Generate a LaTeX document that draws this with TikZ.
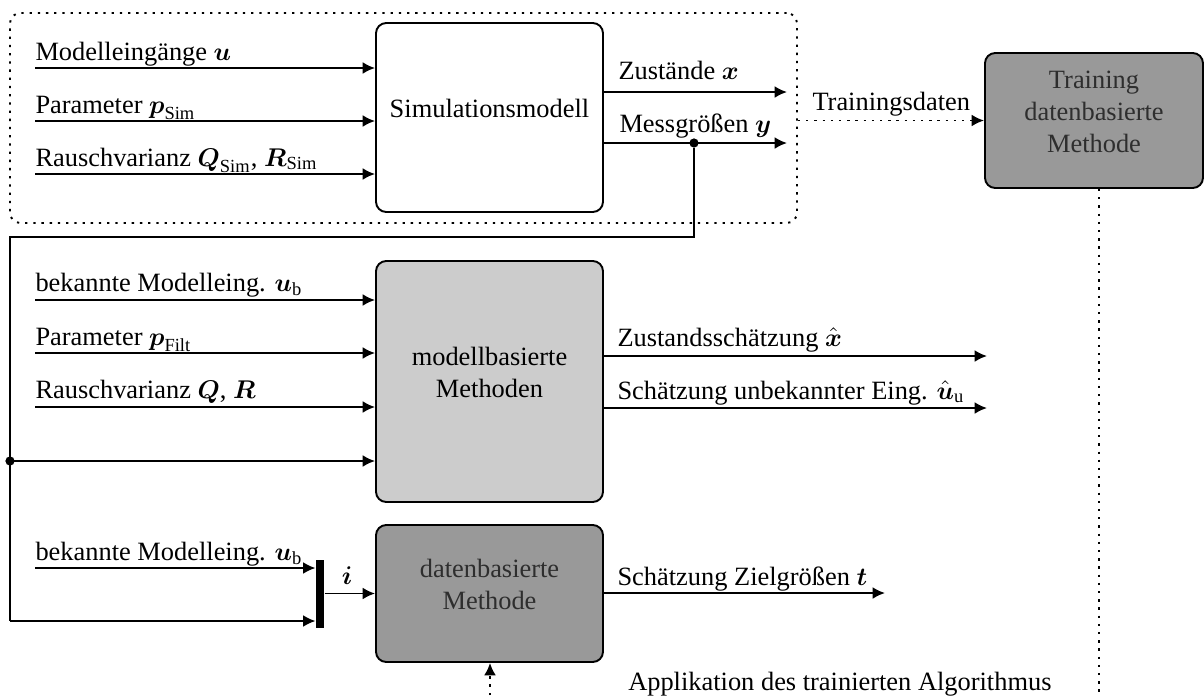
\documentclass[tikz,border=0pt]{standalone}
\usepackage{amsmath}
\usepackage{fontspec}
\setmainfont{Liberation Serif}
\usetikzlibrary{arrows.meta,fit}
\begin{document}
\begin{tikzpicture}[x=0.39pt,y=-0.39pt,
  every node/.style={font=\fontsize{10.3}{12.4}\selectfont},
  blk/.style={draw, line width=0.75pt, rounded corners=4pt, inner sep=0pt, align=center},
  lbl/.style={anchor=base west, inner sep=0pt},
  arr/.style={line width=0.75pt, -{Latex[length=4.8pt,width=4.6pt]}},
  ln/.style={line width=0.75pt},
  dots/.style={line width=0.75pt, dash pattern=on 0.9pt off 2.3pt},
  dotarr/.style={dots, -{Latex[length=4.8pt,width=4.6pt]}},
  jdot/.style={circle, fill=black, inner sep=0pt, minimum size=3.6pt}]
\useasboundingbox (0,0) rectangle (1204,695);
\definecolor{dgray}{HTML}{999999}
\definecolor{lgray}{HTML}{CCCCCC}
\definecolor{tgray}{HTML}{2E2E2E}

% group box
\node[blk, dots, rounded corners=4pt, fit={(10,13)(797,223)}] (grp) {};

% blocks
\node[blk, fit={(376,23)(603,212)}] (sim) {Simulationsmodell};
\node[blk, fill=dgray, text=tgray, fit={(985,53)(1203,188)}] (train) {Training\\datenbasierte\\Methode};
\node[blk, fill=lgray, fit={(376,261)(603,502)}] (mod) {modellbasierte\\Methoden};
\node[blk, fill=dgray, text=tgray, fit={(376,525)(603,662)}] (dat) {datenbasierte\\Methode};
\node[fill=black, inner sep=0pt, fit={(316,560)(324,628)}] (mux) {};

% simulation inputs
\coordinate (s1) at (35,68);
\coordinate (s2) at (35,121);
\coordinate (s3) at (35,174);
\draw[arr] (s1) -- (s1 -| sim.west);
\draw[arr] (s2) -- (s2 -| sim.west);
\draw[arr] (s3) -- (s3 -| sim.west);
\node[lbl] (ls1) at (35,60) {Modelleingänge $\boldsymbol{u}$};
\node[lbl] (ls2) at (35,113) {Parameter $\boldsymbol{p}_{\mathrm{Sim}}$};
\node[lbl] (ls3) at (35,166) {Rauschvarianz $\boldsymbol{Q}_{\mathrm{Sim}}$, $\boldsymbol{R}_{\mathrm{Sim}}$};

% simulation outputs
\coordinate (o1) at (787,92);
\coordinate (o2) at (787,143);
\draw[arr] (o1 -| sim.east) -- (o1);
\draw[arr] (o2 -| sim.east) -- (o2);
\node[lbl] (lo1) at (618,79) {Zustände $\boldsymbol{x}$};
\node[lbl] (lo2) at (619,132) {Messgrößen $\boldsymbol{y}$};

% training data
\draw[dotarr] (grp.east |- train.west) -- (train.west);
\node[lbl] (ltd) at (812,110) {Trainingsdaten};
\coordinate (tb) at (1099,695);
\draw[dots] (train.south -| tb) -- (tb);

% feedback of measurements
\node[jdot] (j1) at (694,143) {};
\coordinate (c1) at (694,237);
\coordinate (c2) at (10,237);
\node[jdot] (j2) at (10,461) {};
\coordinate (c3) at (10,621);
\draw[ln] (j1) -- (c1) -- (c2) -- (j2.center);
\draw[arr] (j2.center) -- (j2 -| mod.west);
\draw[ln] (j2.center) -- (c3);
\draw[arr] (c3) -- (c3 -| mux.west);

% model-based inputs
\coordinate (m1) at (35,300);
\coordinate (m2) at (35,353);
\coordinate (m3) at (35,407);
\draw[arr] (m1) -- (m1 -| mod.west);
\draw[arr] (m2) -- (m2 -| mod.west);
\draw[arr] (m3) -- (m3 -| mod.west);
\node[lbl] (lm1) at (35,291) {bekannte Modelleing. $\boldsymbol{u}_{\mathrm{b}}$};
\node[lbl] (lm2) at (35,345) {Parameter $\boldsymbol{p}_{\mathrm{Filt}}$};
\node[lbl] (lm3) at (35,398) {Rauschvarianz $\boldsymbol{Q}$, $\boldsymbol{R}$};

% model-based outputs
\coordinate (mo1) at (987,356);
\coordinate (mo2) at (987,408);
\draw[arr] (mo1 -| mod.east) -- (mo1);
\draw[arr] (mo2 -| mod.east) -- (mo2);
\node[lbl] (lmo1) at (617,346) {Zustandsschätzung $\hat{\boldsymbol{x}}$};
\node[lbl] (lmo2) at (617,399) {Schätzung unbekannter Eing. $\hat{\boldsymbol{u}}_{\mathrm{u}}$};

% data-based
\coordinate (d1) at (35,568);
\draw[arr] (d1) -- (d1 -| mux.west);
\node[lbl] (ld1) at (35,560) {bekannte Modelleing. $\boldsymbol{u}_{\mathrm{b}}$};
\draw[arr] (mux.east |- dat.west) -- (dat.west);
\node[anchor=base, inner sep=0pt] (li) at (347,584) {$\boldsymbol{i}$};
\coordinate (do1) at (885,593);
\draw[arr] (do1 -| dat.east) -- (do1);
\node[lbl] (ldo1) at (617,585) {Schätzung Zielgrößen $\boldsymbol{t}$};

% application
\coordinate (ab) at (490,695);
\draw[dotarr] (ab) -- (ab |- dat.south);
\node[anchor=base east, inner sep=0pt] (lapp) at (1052,690) {Applikation des trainierten Algorithmus};
\end{tikzpicture}
\end{document}
